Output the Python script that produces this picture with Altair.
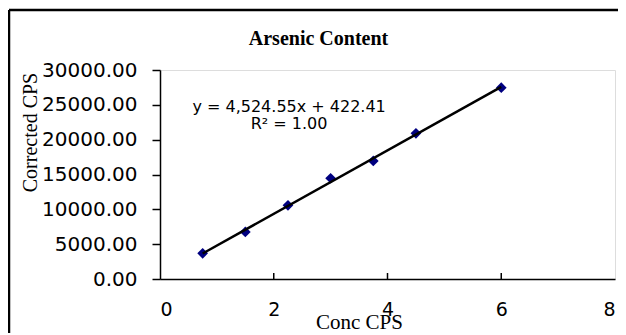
import altair as alt
import pandas as pd

# Data
conc = [0.75, 1.5, 2.25, 3.0, 3.75, 4.5, 6.0]
corrected = [3690, 6750, 10570, 14460, 16940, 20910, 27460]

x_ticks = [0, 2, 4, 6, 8]
y_ticks = [0, 5000, 10000, 15000, 20000, 25000, 30000]
inner_ticks = [2, 4, 6]

eq_x = [2.27, 2.27]
eq_y = [24690, 22250]
eq_text = ["y = 4,524.55x + 422.41", "R² = 1.00"]

df = pd.DataFrame({"x": conc, "y": corrected})
ann = pd.DataFrame({"x": eq_x, "y": eq_y, "text": eq_text})
ticks_df = pd.DataFrame({"x": inner_ticks})
one = pd.DataFrame({"a": [0]})

x_axis = alt.Axis(
    values=x_ticks, format="d", ticks=False, grid=False, labelOverlap=False,
    labelFont="DejaVu Sans", labelFontSize=19, labelColor="black",
    labelPadding=21, domainColor="black", domainWidth=1.5,
    title="Conc CPS", titleFont="Liberation Serif", titleFontSize=21,
    titleFontWeight="normal", titleColor="black",
    titleX=199, titleY=49, titleAlign="center", titleBaseline="alphabetic",
)
y_axis = alt.Axis(
    values=y_ticks, tickCount=7, format=".2f", grid=False, labelOverlap=False,
    tickSize=8, tickColor="black", tickWidth=1.5,
    labelFont="DejaVu Sans", labelFontSize=20, labelColor="black",
    labelPadding=15, domainColor="black", domainWidth=1.5,
    title="Corrected CPS", titleFont="Liberation Serif", titleFontSize=20,
    titleFontWeight="normal", titleColor="black", titleAngle=270,
    titleX=-130, titleY=62, titleAlign="center", titleBaseline="middle",
)
x_scale = alt.Scale(domain=[0, 8], nice=False)
y_scale = alt.Scale(domain=[0, 30000], nice=False)


def xe():
    return alt.X("x:Q", scale=x_scale, axis=x_axis)


def ye():
    return alt.Y("y:Q", scale=y_scale, axis=y_axis)


base = alt.Chart(df)

points = base.mark_point(shape="diamond", filled=True, size=115, color="#000080", opacity=1).encode(
    x=xe(), y=ye()
)

trend = base.transform_regression("x", "y").mark_line(color="black", strokeWidth=2.5).encode(
    x=xe(), y=ye()
)

eq = alt.Chart(ann).mark_text(
    font="DejaVu Sans", fontSize=16, color="black", align="center", baseline="middle"
).encode(x=xe(), y=ye(), text="text:N")

inner = alt.Chart(ticks_df).mark_rule(color="black", strokeWidth=1.5).encode(
    x=xe(), y=alt.value(203), y2=alt.value(209)
)

border_top = alt.Chart(one).mark_rule(color="black", strokeWidth=2.5).encode(
    x=alt.value(-151), x2=alt.value(480), y=alt.value(-60)
)
border_left = alt.Chart(one).mark_rule(color="black", strokeWidth=2.5).encode(
    x=alt.value(-151), y=alt.value(-60), y2=alt.value(300)
)

chart = alt.layer(points, trend, eq, inner, border_top, border_left).properties(
    width=455,
    height=209,
    autosize=alt.AutoSizeParams(type="none"),
    padding={"left": 152, "top": 62, "right": 3, "bottom": 54},
    title=alt.TitleParams(
        "Arsenic Content", font="Liberation Serif", fontSize=20, fontWeight="bold",
        color="black", anchor="middle", frame="group", offset=0,
        baseline="alphabetic", dx=-69, dy=56,
    ),
).configure_view(stroke="#404040", strokeWidth=1.5).configure(background="white")

chart.save("out.html", embed_options={"renderer": "svg", "actions": False})
